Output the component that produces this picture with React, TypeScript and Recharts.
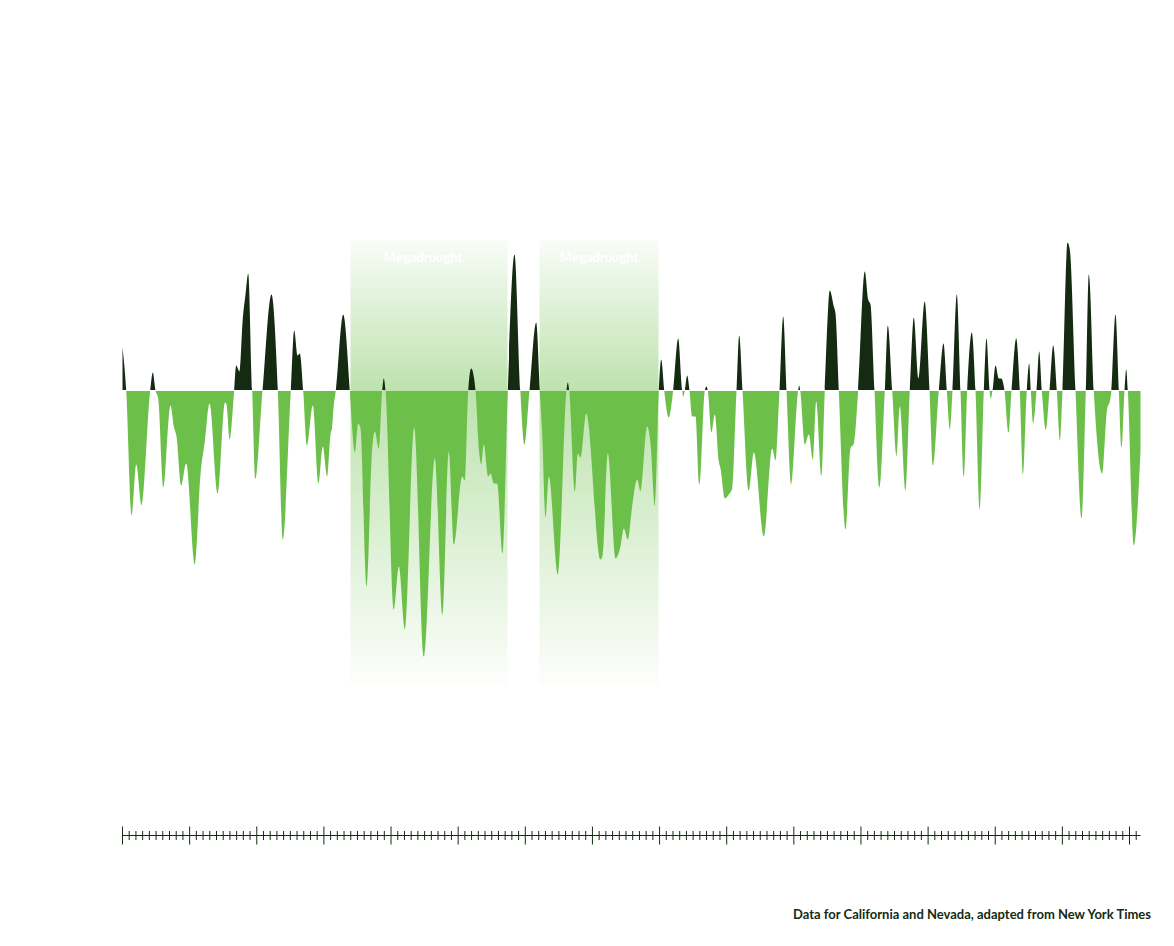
import React from 'react';
import { AreaChart, Area, XAxis, YAxis, ReferenceArea } from 'recharts';

// Years (x positions) and drought index values
const years: number[] = [
  800, 803.7, 809, 813.7, 819, 827.7, 830.3, 833, 835.7, 841, 848, 851.3, 854, 858.7, 863.7, 872.3, 878, 882.3, 887, 895.3,
  902.5, 904, 907, 911.7, 913.7, 917, 920.3, 923, 925.7, 929.7, 933, 940, 949, 955.3, 960.3, 968.3, 971.7, 975, 977.3, 980.7,
  984.3, 990.3, 996, 1000.3, 1004.7, 1008, 1009.7, 1011, 1013.3, 1020.7, 1027.3, 1029.7, 1032.3, 1035.7, 1038, 1044, 1049.7, 1052.3, 1056.3, 1059.7,
  1061.3, 1063, 1071.3, 1076.3, 1082.3, 1091.7, 1101.3, 1112.3, 1120, 1126.3, 1131.3, 1139.7, 1142.3, 1145.7, 1148.7, 1153, 1156.3, 1158.7, 1161.3, 1165.7,
  1168, 1171.3, 1174.7, 1180, 1185.3, 1192, 1197.8, 1202, 1207, 1213.7, 1217.3, 1219.7, 1223, 1226.3, 1235.3, 1244, 1245.3, 1246.7, 1252.3, 1255.3,
  1258, 1263.7, 1278, 1280.3, 1285.3, 1293, 1298, 1301.3, 1305.3, 1309.7, 1314.7, 1318, 1324.7, 1328, 1332.3, 1336.3, 1338.7, 1341.7, 1346.3, 1350.7,
  1355.7, 1359.7, 1360.7, 1362.3, 1364.7, 1367, 1369.7, 1373, 1377, 1382.3, 1384, 1385.3, 1389, 1392.3, 1396.3, 1398, 1402.3, 1406.3, 1409.7, 1414,
  1416.7, 1420, 1426.3, 1431.3, 1441.3, 1449.7, 1453, 1457, 1460.7, 1464, 1468.7, 1475.7, 1476.7, 1477.7, 1482.3, 1486.3, 1490.3, 1493.7, 1499, 1502.3,
  1507.3, 1511.3, 1513, 1516.3, 1523, 1528, 1531.3, 1535.7, 1542.3, 1545.7, 1548, 1552, 1557, 1562.3, 1565.3, 1569.7, 1574, 1577.3, 1583, 1587.3,
  1591.3, 1596, 1602.2, 1607, 1610.3, 1616.3, 1621, 1624.3, 1627.3, 1630, 1634.3, 1638, 1641.3, 1644.7, 1649.3, 1653, 1657.3, 1661.3, 1664, 1667,
  1668.3, 1670, 1673, 1676.3, 1678.7, 1682, 1686, 1689, 1693.7, 1697.3, 1700.7, 1704.3, 1706.7, 1708.3, 1710.7, 1714, 1716.7, 1719.3, 1723.3, 1727,
  1730.7, 1734.3, 1737.3, 1740, 1745, 1747.3, 1753, 1759, 1763.3, 1766.3, 1771.3, 1779.7, 1784.7, 1787.3, 1789, 1793, 1796.3, 1799, 1802, 1803.7,
  1805.3, 1811.3, 1818,
];

const values: number[] = [
  4.3, 0, -12.5, -7.4, -11.5, 0, 1.8, 0, -0.8, -9.7, -1.5, -3.6, -4.6, -9.5, -7.3, -17.4, -8.4, -5.1, -1.3, -10.3,
  -1.2, -1.4, -4.9, 0, 2.5, 1.9, 7.2, 9.6, 11.7, 0, -8.9, 0, 9.6, 0, -14.9, 0, 6.0, 3.5, 3.7, 0,
  -5.5, -1.5, -9.3, -5.6, -8.6, -4.4, -3.6, -1.8, 0, 7.6, 0, -3.8, -6.2, -3.3, -3.8, -19.6, -5.8, -4.1, -5.8, 0,
  1.2, 0, -21.9, -17.6, -23.9, -3.7, -26.6, -6.8, -22.4, -6.1, -15.4, -8.6, -9.0, 0, 2.2, 0, -5.8, -7.4, -5.4, -8.6,
  -8.3, -9.3, -9.3, -16.3, 0, 13.6, 0, -5.4, 0, 6.8, 0, -4.4, -12.7, -8.6, -18.4, 0, 0.8, 0, -10.1, -6.3,
  -6.7, -2.3, -16.9, -16.4, -6.3, -16.8, -15.6, -13.8, -14.9, -11.6, -8.9, -10.1, -3.6, -5.3, -11.6, 0, 3.1, 0, -2.7, 0,
  5.2, 0, -0.6, 0, 1.5, 0, -2.6, -2.6, -9.4, 0, 0.4, 0, -4.2, -2.4, -7.1, -7.8, -10.8, -10.4, -9.8, 0,
  5.5, 0, -10.0, -6.2, -14.6, -5.8, -7.0, 0, 7.4, 0, -9.4, 0, 0.5, 0, -5.4, -4.4, -6.9, -1.1, -8.5, 0,
  10.0, 8.4, 7.7, 0, -13.9, -5.8, -5.3, 0, 11.9, 9.1, 8.6, 0, -9.7, 0, 6.5, 0, -6.6, -1.6, -10.0, 0,
  7.3, 1.2, 8.9, 0, -7.5, 0, 4.7, 0, -3.9, 0, 9.6, 0, -8.6, 0, 5.8, 0, -11.9, 0, 5.2, 0,
  -0.8, 0, 2.5, 1.2, 1.2, 0, -4.2, 0, 5.2, 0, -8.4, 0, 2.7, 0, -3.3, 0, 3.9, 0, -3.9, 0,
  4.5, 0, -5.0, 0, 14.8, 14.1, 0, -12.8, 0, 11.6, 0, -8.3, -1.8, -1.1, 0, 7.6, 0, -5.7, 0, 2.1,
  0, -15.5, -6,
];

// Megadrought periods
const droughtStarts: number[] = [1028, 1217];
const droughtEnds: number[] = [1185, 1336];
const droughtLabels: string[] = ['Megadrought', 'Megadrought'];
const droughtLabelShift: number[] = [-6, 0];

// Axis: minor tick every 1/10 of a major interval
const startYear = 800;
const endYear = 1818;
const minorStep = 6.7133;
const tickValues: number[] = Array.from({ length: 152 }, (_, k) => startYear + k * minorStep);

const footer = 'Data for California and Nevada, adapted from New York Times';

const DARK = '#142b12';
const GREEN = '#6cc04a';

const data = years.map((year, i) => ({ year, value: values[i] }));

const W = 1158;
const H = 930;
const BASE_Y = 382.5; // pixel row of the zero line inside the svg

const AxisTick = (props: any) => {
  const { x, y, payload } = props;
  const k = Math.round((payload.value - startYear) / minorStep);
  const h = k % 10 === 0 ? 9 : 4.5;
  return <line x1={x} x2={x} y1={y - h} y2={y + h} stroke={DARK} strokeWidth={1} />;
};

const makeDroughtLabel = (text: string, shift: number) => (props: any) => {
  const vb = props.viewBox || {};
  return (
    <text
      x={vb.x + vb.width / 2 + shift}
      y={vb.y + 21.5}
      textAnchor="middle"
      fontFamily="Lato"
      fontWeight={700}
      fontSize={13}
      fill="#ffffff"
    >
      {text}
    </text>
  );
};

export default function App() {
  return (
    <div style={{ position: 'relative', width: W, height: H }}>
      <AreaChart
        width={W}
        height={H}
        data={data}
        margin={{ top: 232.5, right: 25.5, bottom: 72.5, left: 114.5 }}
      >
        <defs>
          <linearGradient id="splitFill" gradientUnits="userSpaceOnUse" x1={0} y1={0} x2={0} y2={H}>
            <stop offset={(BASE_Y - 0.5) / H} stopColor={DARK} stopOpacity={1} />
            <stop offset={(BASE_Y - 0.5) / H} stopColor="#ffffff" stopOpacity={0} />
            <stop offset={(BASE_Y + 0.5) / H} stopColor="#ffffff" stopOpacity={0} />
            <stop offset={(BASE_Y + 0.5) / H} stopColor={GREEN} stopOpacity={1} />
          </linearGradient>
          <linearGradient id="mdGrad" x1={0} y1={0} x2={0} y2={1}>
            <stop offset={0} stopColor={GREEN} stopOpacity={0.04} />
            <stop offset={0.337} stopColor={GREEN} stopOpacity={0.45} />
            <stop offset={1} stopColor={GREEN} stopOpacity={0.02} />
          </linearGradient>
        </defs>
        <XAxis
          dataKey="year"
          type="number"
          domain={[startYear, endYear]}
          ticks={tickValues}
          interval={0}
          tickLine={false}
          tickSize={0}
          tickMargin={0}
          axisLine={{ stroke: DARK, strokeWidth: 1 }}
          tick={(p: any) => <AxisTick {...p} />}
          height={30}
        />
        <YAxis type="number" domain={[-44.5, 15]} hide allowDataOverflow />
        {droughtStarts.map((s, i) => (
          <ReferenceArea
            key={i}
            x1={s}
            x2={droughtEnds[i]}
            y1={-29.45}
            y2={15}
            fill="url(#mdGrad)"
            fillOpacity={1}
            stroke="none"
            label={makeDroughtLabel(droughtLabels[i], droughtLabelShift[i])}
          />
        ))}
        <Area
          type="monotone"
          dataKey="value"
          baseValue={0}
          stroke="none"
          fill="url(#splitFill)"
          fillOpacity={1}
          isAnimationActive={false}
          dot={false}
          activeDot={false}
        />
      </AreaChart>
      <svg
        width={W}
        height={H}
        style={{ position: 'absolute', left: 0, top: 0, pointerEvents: 'none' }}
      >
        <text
          x={1143}
          y={911}
          textAnchor="end"
          fontFamily="Lato"
          fontWeight={700}
          fontSize={13}
          fill={DARK}
        >
          {footer}
        </text>
      </svg>
    </div>
  );
}
